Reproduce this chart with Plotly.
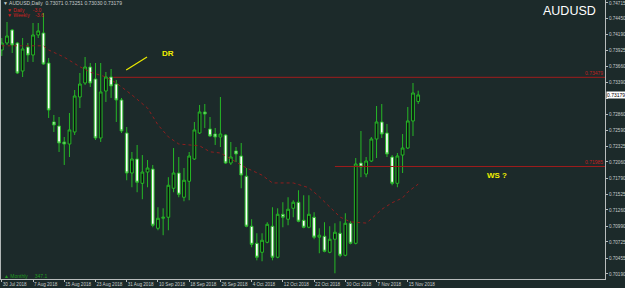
import plotly.graph_objects as go

# ---------------- data ----------------
opens = [0.73930, 0.74047, 0.74264, 0.74047, 0.73579, 0.73980, 0.73847, 0.74181, 0.74214, 0.73713,
         0.72728, 0.72661, 0.72394, 0.72360, 0.72561, 0.73145, 0.73379, 0.73646, 0.73446, 0.72461,
         0.73245, 0.73479, 0.73362, 0.73095, 0.72544, 0.71876, 0.72110, 0.71704, 0.71892, 0.71942,
         0.70953, 0.71120, 0.71137, 0.71621, 0.71876, 0.71471, 0.71738, 0.72110, 0.72544, 0.72895,
         0.72611, 0.72527, 0.72477, 0.72511, 0.72043, 0.72243, 0.72160, 0.71823, 0.70987, 0.70702,
         0.70552, 0.70719, 0.70987, 0.70469, 0.71187, 0.71104, 0.71287, 0.71388, 0.71087, 0.70970,
         0.71137, 0.70804, 0.70820, 0.70552, 0.70770, 0.70870, 0.70502, 0.71037, 0.70702, 0.72043,
         0.71859, 0.72076, 0.72444, 0.72728, 0.72544, 0.72143, 0.71704, 0.72176, 0.72293, 0.72745,
         0.73071]
highs = [0.74130, 0.74398, 0.74281, 0.74064, 0.74130, 0.74047, 0.74381, 0.74381, 0.74548, 0.73797,
         0.72845, 0.72811, 0.72477, 0.72878, 0.73262, 0.73546, 0.73813, 0.73713, 0.73713, 0.73713,
         0.73563, 0.73613, 0.73429, 0.73129, 0.72644, 0.72227, 0.72344, 0.72176, 0.72093, 0.72010,
         0.71304, 0.71287, 0.71806, 0.72293, 0.72143, 0.71959, 0.72227, 0.72728, 0.73012, 0.73028,
         0.72811, 0.72628, 0.73145, 0.72527, 0.72394, 0.72310, 0.72377, 0.71959, 0.71104, 0.70870,
         0.70870, 0.71054, 0.71304, 0.71287, 0.71388, 0.71471, 0.71421, 0.71588, 0.71504, 0.71504,
         0.71221, 0.70953, 0.71054, 0.70987, 0.71037, 0.71070, 0.71204, 0.71070, 0.72126, 0.72578,
         0.72143, 0.72477, 0.72995, 0.73028, 0.72695, 0.72176, 0.72210, 0.72527, 0.72978, 0.73379,
         0.73251]
lows = [0.73830, 0.74014, 0.73880, 0.73529, 0.73479, 0.73730, 0.73730, 0.74130, 0.73680, 0.72795,
        0.72561, 0.72227, 0.72010, 0.72143, 0.72511, 0.72961, 0.73346, 0.73312, 0.72427, 0.72394,
        0.73062, 0.73129, 0.72728, 0.72544, 0.71755, 0.71638, 0.71555, 0.71438, 0.71638, 0.70970,
        0.70920, 0.70837, 0.70920, 0.71555, 0.71471, 0.71404, 0.71421, 0.72093, 0.72527, 0.72628,
        0.72477, 0.72344, 0.72310, 0.72026, 0.72010, 0.72059, 0.71621, 0.70970, 0.70636, 0.70418,
        0.70402, 0.70702, 0.70418, 0.70452, 0.70970, 0.71003, 0.71137, 0.71054, 0.70953, 0.70953,
        0.70770, 0.70536, 0.70552, 0.70536, 0.70201, 0.70469, 0.70485, 0.70685, 0.70685, 0.71806,
        0.71806, 0.72059, 0.72126, 0.72461, 0.72143, 0.71671, 0.71638, 0.71876, 0.72277, 0.72494,
        0.73030]
closes = [0.74047, 0.74164, 0.74014, 0.73546, 0.73947, 0.73847, 0.74181, 0.74248, 0.73696, 0.72928,
          0.72678, 0.72377, 0.72360, 0.72595, 0.73162, 0.73362, 0.73646, 0.73379, 0.72461, 0.73229,
          0.73479, 0.73329, 0.73095, 0.72578, 0.71876, 0.72110, 0.71722, 0.71892, 0.71959, 0.71003,
          0.71120, 0.71137, 0.71671, 0.71876, 0.71521, 0.71755, 0.72160, 0.72595, 0.72895, 0.72861,
          0.72494, 0.72477, 0.72527, 0.72043, 0.72143, 0.72193, 0.71842, 0.70987, 0.70685, 0.70469,
          0.70753, 0.71020, 0.70469, 0.71187, 0.71137, 0.71271, 0.71388, 0.71070, 0.70970, 0.71187,
          0.70804, 0.70837, 0.70569, 0.70770, 0.70887, 0.70502, 0.71037, 0.70702, 0.72026, 0.71976,
          0.72076, 0.72444, 0.72728, 0.72527, 0.72193, 0.71704, 0.72160, 0.72293, 0.72745, 0.73212,
          0.73179]
bar_idx = list(range(len(opens)))

# moving average (read at selected bars)
ma_idx = [0, 4, 8, 9, 12, 15, 17, 20, 22, 25, 28, 30, 32, 34, 38, 40, 42, 47, 50, 52, 56, 59,
          61, 63, 65, 67, 70, 71, 73, 75, 77, 78, 80]
ma_val = [0.7400, 0.7400, 0.7400, 0.7393, 0.7381, 0.7365, 0.7356, 0.7348, 0.7338, 0.7318, 0.7296,
          0.7268, 0.7248, 0.7236, 0.7233, 0.7223, 0.7221, 0.7196, 0.7184, 0.7171, 0.7171, 0.7163,
          0.7148, 0.7131, 0.7114, 0.7106, 0.7104, 0.7111, 0.7127, 0.7138, 0.7146, 0.7156, 0.7169]

tick_idx = [0, 6, 12, 18, 24, 30, 36, 42, 48, 54, 60, 66, 72, 78]
tick_text = ["30 Jul 2018", "7 Aug 2018", "15 Aug 2018", "23 Aug 2018", "31 Aug 2018",
             "10 Sep 2018", "18 Sep 2018", "26 Sep 2018", "4 Oct 2018", "12 Oct 2018",
             "22 Oct 2018", "30 Oct 2018", "7 Nov 2018", "15 Nov 2018"]
price_ticks = [0.74715, 0.74450, 0.74190, 0.73925, 0.73660, 0.73390, 0.73125, 0.72860, 0.72590,
               0.72325, 0.72060, 0.71790, 0.71525, 0.71260, 0.70990, 0.70725, 0.70455, 0.70190]

# horizontal levels (price, starting bar)
level_price = [0.73474, 0.71985]
level_start = [21.4, 64.0]
level_text = ["0.73479", "0.71985"]

# hand-drawn yellow line near DR
dr_line_x = [23.9, 27.9]
dr_line_y = [0.73596, 0.73813]
notes = [("DR", 31.9, 0.73880), ("WS ?", 95.1, 0.71834)]

last_price = 0.73179
header = "AUDUSD,Daily  0.73071 0.73251 0.73030 0.73179"

# ---------------- style ----------------
BG = "#1c2a2a"
GREEN = "#26b826"
AXIS = "#b8bcbc"
TXT = "#c8cccc"
RED = "#a01c1c"
X_RANGE = [-0.346, 115.89]
Y_RANGE = [0.70106, 0.74765]

fig = go.Figure()

fig.add_trace(go.Candlestick(
    x=bar_idx, open=opens, high=highs, low=lows, close=closes,
    increasing=dict(line=dict(color=GREEN, width=1), fillcolor="#0b1212"),
    decreasing=dict(line=dict(color=GREEN, width=1), fillcolor="#ffffff"),
    hoverinfo="skip", showlegend=False,
))

fig.add_trace(go.Scatter(
    x=ma_idx, y=ma_val, mode="lines",
    line=dict(color="#8e1e1e", width=1, dash="dot"),
    hoverinfo="skip", showlegend=False,
))

fig.add_trace(go.Scatter(
    x=dr_line_x, y=dr_line_y, mode="lines",
    line=dict(color="#e8e800", width=1.3),
    hoverinfo="skip", showlegend=False,
))

for p, s in zip(level_price, level_start):
    fig.add_trace(go.Scatter(
        x=[s, X_RANGE[1]], y=[p, p], mode="lines",
        line=dict(color=RED, width=1), hoverinfo="skip", showlegend=False,
    ))

annotations = []
for p, t in zip(level_price, level_text):
    annotations.append(dict(x=1, xref="paper", y=p, yref="y", text=t, showarrow=False,
                            xanchor="right", yanchor="bottom", yshift=-1,
                            font=dict(family="Liberation Sans", size=5, color="#c02020")))
for t, xi, yp in notes:
    annotations.append(dict(x=xi, y=yp, xref="x", yref="y", text="<b>%s</b>" % t,
                            showarrow=False, font=dict(family="Liberation Sans", size=8,
                                                       color="#f0f000")))
annotations.append(dict(x=1.0, xshift=1, xref="paper", y=last_price, yref="y",
                        text="%.5f" % last_price,
                        showarrow=False, xanchor="left", yanchor="middle",
                        bgcolor="#ffffff", borderpad=0,
                        font=dict(family="Liberation Sans", size=5, color="#000000")))
annotations.append(dict(x=0.989, y=0.96, xref="paper", yref="paper", text="AUDUSD",
                        showarrow=False, xanchor="right", yanchor="middle",
                        font=dict(family="Liberation Sans", size=12.5, color="#ffffff")))
annotations.append(dict(x=0.002, y=0.988, xref="paper", yref="paper",
                        text="▼ " + header, showarrow=False, xanchor="left", yanchor="middle",
                        font=dict(family="Liberation Sans", size=5, color=TXT)))
annotations.append(dict(x=0.008, y=0.963, xref="paper", yref="paper",
                        text="▼ Daily&nbsp;&nbsp;&nbsp;&nbsp;&nbsp;&nbsp;-3.0", showarrow=False,
                        xanchor="left", yanchor="middle",
                        font=dict(family="Liberation Sans", size=5, color="#d02020")))
annotations.append(dict(x=0.008, y=0.945, xref="paper", yref="paper",
                        text="▼ Weekly&nbsp;&nbsp;&nbsp;&nbsp;-3.6", showarrow=False,
                        xanchor="left", yanchor="middle",
                        font=dict(family="Liberation Sans", size=5, color="#d02020")))
annotations.append(dict(x=0.004, y=0.012, xref="paper", yref="paper",
                        text="▲ Monthly&nbsp;&nbsp;&nbsp;&nbsp;&nbsp;347.1", showarrow=False,
                        xanchor="left", yanchor="middle",
                        font=dict(family="Liberation Sans", size=5, color="#1f9a1f")))

# tick label hidden behind the current-price marker in the reference
price_tick_text = ["" if abs(v - last_price) < 0.0008 else "%.5f" % v for v in price_ticks]

fig.update_layout(
    width=625, height=288,
    margin=dict(l=0, r=20, t=0, b=9),
    paper_bgcolor=BG, plot_bgcolor=BG,
    showlegend=False,
    boxgap=0.25,
    annotations=annotations,
    shapes=[dict(type="line", xref="paper", yref="paper", x0=0.0008, x1=0.0008, y0=0, y1=1,
                 line=dict(color=AXIS, width=1))],
    xaxis=dict(range=X_RANGE, rangeslider=dict(visible=False), showgrid=False,
               zeroline=False, showline=True, linecolor=AXIS, linewidth=1,
               tickvals=tick_idx, ticktext=tick_text, ticks="outside", ticklen=2,
               tickcolor=AXIS, ticklabelposition="outside right", tickangle=0,
               tickfont=dict(family="Liberation Sans", size=4.6, color=TXT)),
    yaxis=dict(range=Y_RANGE, side="right", showgrid=False, zeroline=False,
               showline=True, linecolor=AXIS, linewidth=1,
               tickvals=price_ticks, ticktext=price_tick_text,
               ticks="outside", ticklen=2, tickcolor=AXIS,
               tickfont=dict(family="Liberation Sans", size=4.6, color=TXT)),
)

fig.write_html("out.html")
